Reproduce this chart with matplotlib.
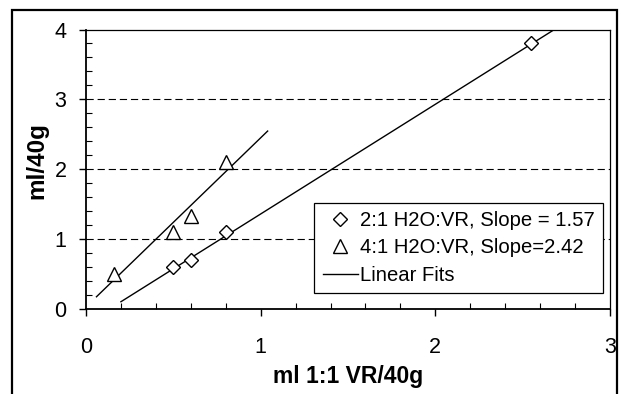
import matplotlib
matplotlib.use("Agg")
import matplotlib.pyplot as plt
import numpy as np
from matplotlib.patches import Rectangle
from matplotlib.ticker import MultipleLocator
from matplotlib.lines import Line2D

plt.rcParams['font.family'] = ['Liberation Sans', 'DejaVu Sans']

# ---- data ----
x_21 = [0.5, 0.6, 0.8, 2.55]
y_21 = [0.6, 0.7, 1.1, 3.8]
x_41 = [0.16, 0.5, 0.6, 0.8]
y_41 = [0.5, 1.1, 1.33, 2.1]

fit21_x = [0.2, 2.68]
fit21_slope, fit21_icpt = 1.57, -0.21
fit41_x = [0.06, 1.04]
fit41_slope, fit41_icpt = 2.42, 0.03

label_21 = "2:1 H2O:VR, Slope = 1.57"
label_41 = "4:1 H2O:VR, Slope=2.42"
label_fit = "Linear Fits"

xticks = [0, 1, 2, 3]
yticks = [0, 1, 2, 3, 4]

fig = plt.figure(figsize=(6.19, 3.94), dpi=100)
ax = fig.add_axes([0.1389, 0.2157, 0.8466, 0.7094])

# outer border
fig.patches.append(Rectangle((0.0194, -0.05), 0.9774, 1.0246, transform=fig.transFigure,
                             fill=False, edgecolor='black', linewidth=1.6, zorder=0))

# grid lines
for g in [1, 2, 3]:
    ax.axhline(g, color='black', linewidth=0.8, linestyle=(0, (6.5, 3.5)), zorder=1)

# fit lines
f21x = np.array(fit21_x)
f41x = np.array(fit41_x)
ax.plot(f21x, fit21_slope * f21x + fit21_icpt, color='black', linewidth=1.0, zorder=2)
ax.plot(f41x, fit41_slope * f41x + fit41_icpt, color='black', linewidth=1.0, zorder=2)

ax.plot(x_21, y_21, linestyle='none', marker='D', markersize=7, markerfacecolor='white',
        markeredgecolor='black', markeredgewidth=1.0, zorder=3)
ax.plot(x_41, y_41, linestyle='none', marker='^', markersize=10.5, markerfacecolor='white',
        markeredgecolor='black', markeredgewidth=1.0, zorder=3)

ax.set_xlim(0, 3)
ax.set_ylim(0, 4)
ax.set_xticks(xticks)
ax.set_yticks(yticks)
ax.xaxis.set_minor_locator(MultipleLocator(0.2))
ax.yaxis.set_minor_locator(MultipleLocator(0.2))
ax.tick_params(which='major', direction='out', length=5, width=1.0, labelsize=15.5, colors='black')
ax.tick_params(axis='x', which='major', pad=15)
ax.tick_params(axis='y', which='major', pad=9)
ax.tick_params(which='minor', direction='in', length=4.5, width=0.8)

for s in ['left', 'bottom']:
    ax.spines[s].set_linewidth(1.3)
for s in ['top', 'right']:
    ax.spines[s].set_linewidth(0.9)

ax.set_xlabel("ml 1:1 VR/40g", fontsize=16.5, fontweight='bold', va='center')
ax.xaxis.set_label_coords(0.5, -0.243)
ax.set_ylabel("ml/40g", fontsize=17.5, fontweight='bold', va='center')
ax.yaxis.set_label_coords(-0.0935, 0.53)

# legend
h1 = Line2D([], [], linestyle='none', marker='D', markersize=7, markerfacecolor='white',
            markeredgecolor='black', markeredgewidth=1.0)
h2 = Line2D([], [], linestyle='none', marker='^', markersize=9.5, markerfacecolor='white',
            markeredgecolor='black', markeredgewidth=1.0)
h3 = Line2D([], [], color='black', linewidth=1.0)
leg = ax.legend([h1, h2, h3], [label_21, label_41, label_fit], loc='lower left',
                bbox_to_anchor=(0.436, 0.058, 0.551, 0.328), mode='expand',
                fontsize=14.6, frameon=True, fancybox=False, framealpha=1,
                edgecolor='black', borderpad=0.4, labelspacing=0.42,
                handlelength=1.75, handletextpad=0.1, borderaxespad=0)
leg.get_frame().set_linewidth(0.9)

fig.savefig("out.png", dpi=100)
